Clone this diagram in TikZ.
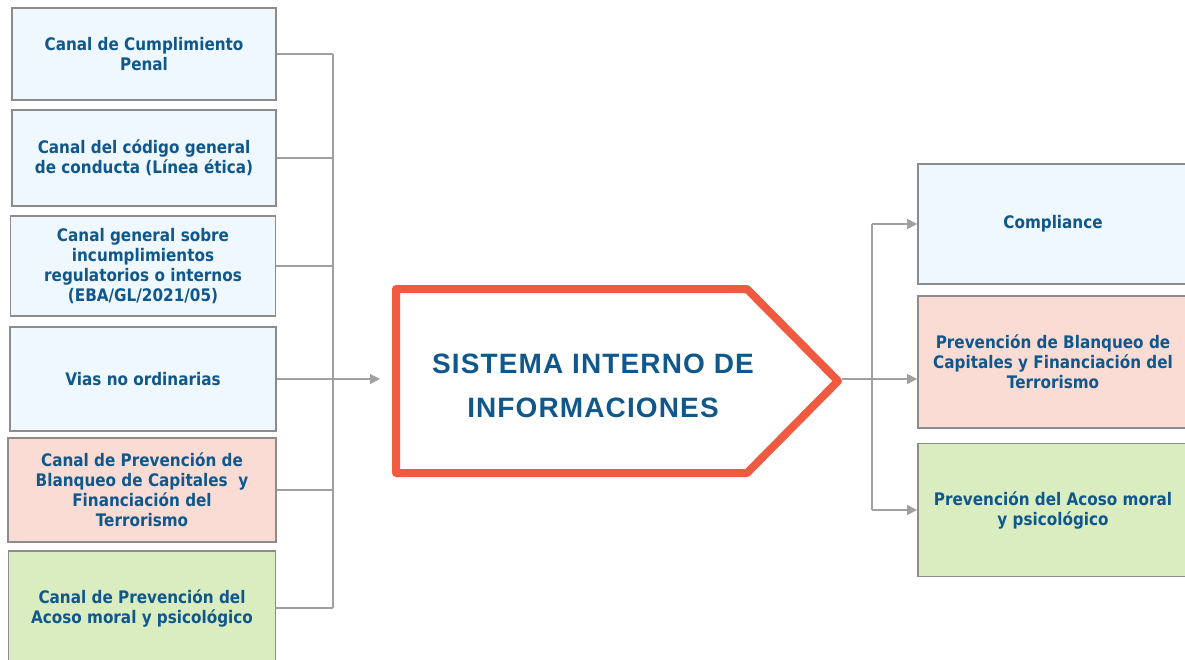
\documentclass[tikz,border=0pt]{standalone}
\usepackage{fontspec}
\setmainfont{DejaVu Sans}[FakeStretch=0.88]
\newfontfamily\titlefont{Liberation Sans}[LetterSpace=4]
\usepackage{xcolor}
\usetikzlibrary{arrows.meta}
\definecolor{inkblue}{RGB}{16,88,140}
\definecolor{chanblue}{RGB}{239,247,255}
\definecolor{chanpink}{RGB}{250,220,213}
\definecolor{changreen}{RGB}{217,237,193}
\definecolor{boxgray}{RGB}{140,140,140}
\definecolor{linegray}{RGB}{160,160,160}
\definecolor{sysred}{RGB}{240,90,64}
\tikzset{
  chan/.style={draw=boxgray, line width=1.8pt, align=center, inner sep=0pt,
    text=inkblue, font=\bfseries\fontsize{17.3}{20}\selectfont},
  conn/.style={draw=linegray, line width=1.2pt},
  tip/.style={conn, -{Triangle[length=10pt,width=10pt]}}
}

\begin{document}
\begin{tikzpicture}[x=1pt,y=-1pt]
        \useasboundingbox (0,0) rectangle (1185,659);
        % channels on the left
        \node[chan, fill=chanblue, minimum width=264pt, minimum height=92pt] (lbox1) at (144,54) {Canal de Cumplimiento\\Penal};
        \node[chan, fill=chanblue, minimum width=264pt, minimum height=96pt] (lbox2) at (144,158) {Canal del código general\\de conducta (Línea ética)};
        \node[chan, fill=chanblue, minimum width=265pt, minimum height=100pt] (lbox3) at (143,266) {Canal general sobre\\incumplimientos\\regulatorios o internos\\(EBA/GL/2021/05)};
        \node[chan, fill=chanblue, minimum width=266pt, minimum height=104pt] (lbox4) at (143,379) {Vias no ordinarias};
        \node[chan, fill=chanpink, minimum width=268pt, minimum height=104pt] (lbox5) at (142,490) {Canal de Prevención de\\Blanqueo de Capitales\ \ y\\Financiación del\\Terrorismo};
        \node[chan, fill=changreen, minimum width=267pt, minimum height=114pt] (lbox6) at (142,608) {Canal de Prevención del\\Acoso moral y psicológico};
        % left bus
        \coordinate (lbus) at (333,0);
        \foreach \i in {1,2,3,5,6}
          \draw[conn] (lbox\i.east) -- (lbox\i.east -| lbus);
        \draw[conn] (lbox1.east -| lbus) -- (lbox6.east -| lbus);
        % central system
        \draw[draw=sysred, line width=8pt, line join=round]
          (396,289) -- (747,289) -- (838,381) -- (747,473) -- (396,473) -- cycle;
        \coordinate (siiin) at (392,379);
        \coordinate (siitip) at (842,379);
        \node[text=inkblue, align=center, inner sep=0pt,
          font=\titlefont\bfseries\fontsize{28}{44}\selectfont] (sii) at (593,386)
          {SISTEMA INTERNO DE\\INFORMACIONES};
        \draw[tip] (lbox4.east) -- ([xshift=-12pt]siiin);
        % destinations on the right
        \node[chan, fill=chanblue, minimum width=270pt, minimum height=120pt] (rbox1) at (1053,224) {Compliance};
        \node[chan, fill=chanpink, minimum width=270pt, minimum height=132pt] (rbox2) at (1053,362) {Prevención de Blanqueo de\\Capitales y Financiación del\\Terrorismo};
        \node[chan, fill=changreen, minimum width=270pt, minimum height=133pt] (rbox3) at (1053,510) {Prevención del Acoso moral\\y psicológico};
        % right bus
        \coordinate (rbus) at (872,0);
        \draw[conn] (siitip) -- (siitip -| rbus);
        \draw[conn] (rbox1.west -| rbus) -- (rbox3.west -| rbus);
        \draw[tip] (rbox1.west -| rbus) -- (rbox1.west);
        \draw[tip] (siitip -| rbus) -- (siitip -| rbox2.west);
        \draw[tip] (rbox3.west -| rbus) -- (rbox3.west);
    \end{tikzpicture}
\end{document}
